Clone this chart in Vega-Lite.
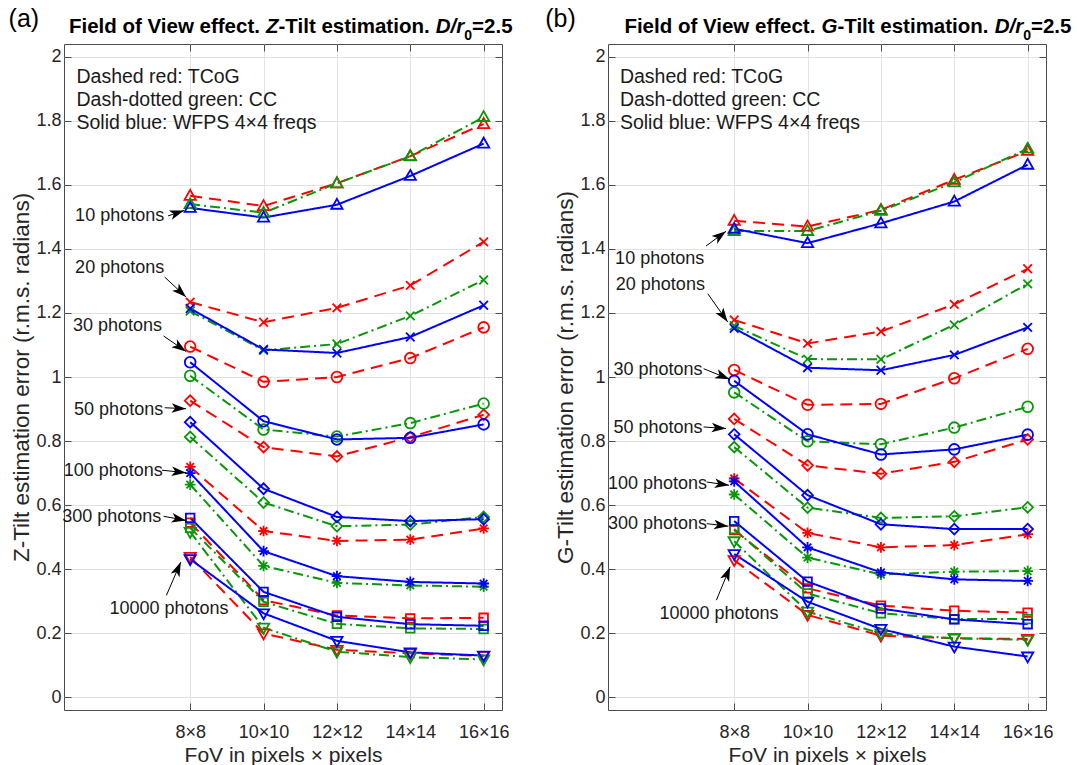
{
  "$schema": "https://vega.github.io/schema/vega-lite/v6.json",
  "background": "white",
  "padding": {"left": 8, "top": 6, "right": 5, "bottom": 0},
  "spacing": 106,
  "bounds": "flush",
  "config": {
    "font": "Liberation Sans",
    "view": {"stroke": "#4d4d4d", "strokeWidth": 1},
    "axis": {
      "labelFont": "Liberation Sans", "labelFontSize": 18, "labelColor": "#262626",
      "titleFont": "Liberation Sans", "titleFontSize": 21, "titleFontWeight": "normal", "titleColor": "#262626",
      "tickColor": "#4d4d4d", "tickSize": -7, "tickWidth": 1, "gridColor": "#e3e3e3", "gridWidth": 1, "domain": false
    }
  },
  "datasets": {
    "series": [
      {"panel":"a","method":"TCoG","photons":10,"fov":8,"err":1.566},{"panel":"a","method":"TCoG","photons":10,"fov":10,"err":1.534},{"panel":"a","method":"TCoG","photons":10,"fov":12,"err":1.605},{"panel":"a","method":"TCoG","photons":10,"fov":14,"err":1.690},{"panel":"a","method":"TCoG","photons":10,"fov":16,"err":1.790},
      {"panel":"a","method":"TCoG","photons":20,"fov":8,"err":1.234},{"panel":"a","method":"TCoG","photons":20,"fov":10,"err":1.171},{"panel":"a","method":"TCoG","photons":20,"fov":12,"err":1.216},{"panel":"a","method":"TCoG","photons":20,"fov":14,"err":1.286},{"panel":"a","method":"TCoG","photons":20,"fov":16,"err":1.422},
      {"panel":"a","method":"TCoG","photons":30,"fov":8,"err":1.095},{"panel":"a","method":"TCoG","photons":30,"fov":10,"err":0.985},{"panel":"a","method":"TCoG","photons":30,"fov":12,"err":1.000},{"panel":"a","method":"TCoG","photons":30,"fov":14,"err":1.059},{"panel":"a","method":"TCoG","photons":30,"fov":16,"err":1.155},
      {"panel":"a","method":"TCoG","photons":50,"fov":8,"err":0.926},{"panel":"a","method":"TCoG","photons":50,"fov":10,"err":0.781},{"panel":"a","method":"TCoG","photons":50,"fov":12,"err":0.752},{"panel":"a","method":"TCoG","photons":50,"fov":14,"err":0.812},{"panel":"a","method":"TCoG","photons":50,"fov":16,"err":0.882},
      {"panel":"a","method":"TCoG","photons":100,"fov":8,"err":0.719},{"panel":"a","method":"TCoG","photons":100,"fov":10,"err":0.519},{"panel":"a","method":"TCoG","photons":100,"fov":12,"err":0.488},{"panel":"a","method":"TCoG","photons":100,"fov":14,"err":0.492},{"panel":"a","method":"TCoG","photons":100,"fov":16,"err":0.527},
      {"panel":"a","method":"TCoG","photons":300,"fov":8,"err":0.545},{"panel":"a","method":"TCoG","photons":300,"fov":10,"err":0.303},{"panel":"a","method":"TCoG","photons":300,"fov":12,"err":0.255},{"panel":"a","method":"TCoG","photons":300,"fov":14,"err":0.246},{"panel":"a","method":"TCoG","photons":300,"fov":16,"err":0.248},
      {"panel":"a","method":"TCoG","photons":10000,"fov":8,"err":0.438},{"panel":"a","method":"TCoG","photons":10000,"fov":10,"err":0.199},{"panel":"a","method":"TCoG","photons":10000,"fov":12,"err":0.148},{"panel":"a","method":"TCoG","photons":10000,"fov":14,"err":0.137},{"panel":"a","method":"TCoG","photons":10000,"fov":16,"err":0.129},
      {"panel":"a","method":"CC","photons":10,"fov":8,"err":1.540},{"panel":"a","method":"CC","photons":10,"fov":10,"err":1.513},{"panel":"a","method":"CC","photons":10,"fov":12,"err":1.605},{"panel":"a","method":"CC","photons":10,"fov":14,"err":1.689},{"panel":"a","method":"CC","photons":10,"fov":16,"err":1.812},
      {"panel":"a","method":"CC","photons":20,"fov":8,"err":1.206},{"panel":"a","method":"CC","photons":20,"fov":10,"err":1.083},{"panel":"a","method":"CC","photons":20,"fov":12,"err":1.103},{"panel":"a","method":"CC","photons":20,"fov":14,"err":1.191},{"panel":"a","method":"CC","photons":20,"fov":16,"err":1.303},
      {"panel":"a","method":"CC","photons":30,"fov":8,"err":1.004},{"panel":"a","method":"CC","photons":30,"fov":10,"err":0.836},{"panel":"a","method":"CC","photons":30,"fov":12,"err":0.814},{"panel":"a","method":"CC","photons":30,"fov":14,"err":0.856},{"panel":"a","method":"CC","photons":30,"fov":16,"err":0.917},
      {"panel":"a","method":"CC","photons":50,"fov":8,"err":0.813},{"panel":"a","method":"CC","photons":50,"fov":10,"err":0.608},{"panel":"a","method":"CC","photons":50,"fov":12,"err":0.534},{"panel":"a","method":"CC","photons":50,"fov":14,"err":0.539},{"panel":"a","method":"CC","photons":50,"fov":16,"err":0.563},
      {"panel":"a","method":"CC","photons":100,"fov":8,"err":0.664},{"panel":"a","method":"CC","photons":100,"fov":10,"err":0.410},{"panel":"a","method":"CC","photons":100,"fov":12,"err":0.357},{"panel":"a","method":"CC","photons":100,"fov":14,"err":0.349},{"panel":"a","method":"CC","photons":100,"fov":16,"err":0.345},
      {"panel":"a","method":"CC","photons":300,"fov":8,"err":0.529},{"panel":"a","method":"CC","photons":300,"fov":10,"err":0.298},{"panel":"a","method":"CC","photons":300,"fov":12,"err":0.229},{"panel":"a","method":"CC","photons":300,"fov":14,"err":0.215},{"panel":"a","method":"CC","photons":300,"fov":16,"err":0.213},
      {"panel":"a","method":"CC","photons":10000,"fov":8,"err":0.516},{"panel":"a","method":"CC","photons":10000,"fov":10,"err":0.217},{"panel":"a","method":"CC","photons":10000,"fov":12,"err":0.142},{"panel":"a","method":"CC","photons":10000,"fov":14,"err":0.125},{"panel":"a","method":"CC","photons":10000,"fov":16,"err":0.118},
      {"panel":"a","method":"WFPS","photons":10,"fov":8,"err":1.528},{"panel":"a","method":"WFPS","photons":10,"fov":10,"err":1.498},{"panel":"a","method":"WFPS","photons":10,"fov":12,"err":1.538},{"panel":"a","method":"WFPS","photons":10,"fov":14,"err":1.628},{"panel":"a","method":"WFPS","photons":10,"fov":16,"err":1.729},
      {"panel":"a","method":"WFPS","photons":20,"fov":8,"err":1.214},{"panel":"a","method":"WFPS","photons":20,"fov":10,"err":1.086},{"panel":"a","method":"WFPS","photons":20,"fov":12,"err":1.075},{"panel":"a","method":"WFPS","photons":20,"fov":14,"err":1.125},{"panel":"a","method":"WFPS","photons":20,"fov":16,"err":1.224},
      {"panel":"a","method":"WFPS","photons":30,"fov":8,"err":1.046},{"panel":"a","method":"WFPS","photons":30,"fov":10,"err":0.862},{"panel":"a","method":"WFPS","photons":30,"fov":12,"err":0.805},{"panel":"a","method":"WFPS","photons":30,"fov":14,"err":0.810},{"panel":"a","method":"WFPS","photons":30,"fov":16,"err":0.852},
      {"panel":"a","method":"WFPS","photons":50,"fov":8,"err":0.859},{"panel":"a","method":"WFPS","photons":50,"fov":10,"err":0.651},{"panel":"a","method":"WFPS","photons":50,"fov":12,"err":0.563},{"panel":"a","method":"WFPS","photons":50,"fov":14,"err":0.550},{"panel":"a","method":"WFPS","photons":50,"fov":16,"err":0.556},
      {"panel":"a","method":"WFPS","photons":100,"fov":8,"err":0.700},{"panel":"a","method":"WFPS","photons":100,"fov":10,"err":0.456},{"panel":"a","method":"WFPS","photons":100,"fov":12,"err":0.378},{"panel":"a","method":"WFPS","photons":100,"fov":14,"err":0.360},{"panel":"a","method":"WFPS","photons":100,"fov":16,"err":0.355},
      {"panel":"a","method":"WFPS","photons":300,"fov":8,"err":0.560},{"panel":"a","method":"WFPS","photons":300,"fov":10,"err":0.329},{"panel":"a","method":"WFPS","photons":300,"fov":12,"err":0.251},{"panel":"a","method":"WFPS","photons":300,"fov":14,"err":0.228},{"panel":"a","method":"WFPS","photons":300,"fov":16,"err":0.223},
      {"panel":"a","method":"WFPS","photons":10000,"fov":8,"err":0.431},{"panel":"a","method":"WFPS","photons":10000,"fov":10,"err":0.262},{"panel":"a","method":"WFPS","photons":10000,"fov":12,"err":0.176},{"panel":"a","method":"WFPS","photons":10000,"fov":14,"err":0.140},{"panel":"a","method":"WFPS","photons":10000,"fov":16,"err":0.130},
      {"panel":"b","method":"TCoG","photons":10,"fov":8,"err":1.488},{"panel":"b","method":"TCoG","photons":10,"fov":10,"err":1.470},{"panel":"b","method":"TCoG","photons":10,"fov":12,"err":1.522},{"panel":"b","method":"TCoG","photons":10,"fov":14,"err":1.616},{"panel":"b","method":"TCoG","photons":10,"fov":16,"err":1.706},
      {"panel":"b","method":"TCoG","photons":20,"fov":8,"err":1.178},{"panel":"b","method":"TCoG","photons":20,"fov":10,"err":1.105},{"panel":"b","method":"TCoG","photons":20,"fov":12,"err":1.142},{"panel":"b","method":"TCoG","photons":20,"fov":14,"err":1.227},{"panel":"b","method":"TCoG","photons":20,"fov":16,"err":1.338},
      {"panel":"b","method":"TCoG","photons":30,"fov":8,"err":1.022},{"panel":"b","method":"TCoG","photons":30,"fov":10,"err":0.913},{"panel":"b","method":"TCoG","photons":30,"fov":12,"err":0.916},{"panel":"b","method":"TCoG","photons":30,"fov":14,"err":0.996},{"panel":"b","method":"TCoG","photons":30,"fov":16,"err":1.088},
      {"panel":"b","method":"TCoG","photons":50,"fov":8,"err":0.869},{"panel":"b","method":"TCoG","photons":50,"fov":10,"err":0.724},{"panel":"b","method":"TCoG","photons":50,"fov":12,"err":0.698},{"panel":"b","method":"TCoG","photons":50,"fov":14,"err":0.735},{"panel":"b","method":"TCoG","photons":50,"fov":16,"err":0.805},
      {"panel":"b","method":"TCoG","photons":100,"fov":8,"err":0.683},{"panel":"b","method":"TCoG","photons":100,"fov":10,"err":0.513},{"panel":"b","method":"TCoG","photons":100,"fov":12,"err":0.468},{"panel":"b","method":"TCoG","photons":100,"fov":14,"err":0.475},{"panel":"b","method":"TCoG","photons":100,"fov":16,"err":0.509},
      {"panel":"b","method":"TCoG","photons":300,"fov":8,"err":0.522},{"panel":"b","method":"TCoG","photons":300,"fov":10,"err":0.340},{"panel":"b","method":"TCoG","photons":300,"fov":12,"err":0.286},{"panel":"b","method":"TCoG","photons":300,"fov":14,"err":0.270},{"panel":"b","method":"TCoG","photons":300,"fov":16,"err":0.264},
      {"panel":"b","method":"TCoG","photons":10000,"fov":8,"err":0.428},{"panel":"b","method":"TCoG","photons":10000,"fov":10,"err":0.257},{"panel":"b","method":"TCoG","photons":10000,"fov":12,"err":0.192},{"panel":"b","method":"TCoG","photons":10000,"fov":14,"err":0.184},{"panel":"b","method":"TCoG","photons":10000,"fov":16,"err":0.182},
      {"panel":"b","method":"CC","photons":10,"fov":8,"err":1.456},{"panel":"b","method":"CC","photons":10,"fov":10,"err":1.456},{"panel":"b","method":"CC","photons":10,"fov":12,"err":1.519},{"panel":"b","method":"CC","photons":10,"fov":14,"err":1.608},{"panel":"b","method":"CC","photons":10,"fov":16,"err":1.713},
      {"panel":"b","method":"CC","photons":20,"fov":8,"err":1.160},{"panel":"b","method":"CC","photons":20,"fov":10,"err":1.056},{"panel":"b","method":"CC","photons":20,"fov":12,"err":1.055},{"panel":"b","method":"CC","photons":20,"fov":14,"err":1.163},{"panel":"b","method":"CC","photons":20,"fov":16,"err":1.291},
      {"panel":"b","method":"CC","photons":30,"fov":8,"err":0.952},{"panel":"b","method":"CC","photons":30,"fov":10,"err":0.799},{"panel":"b","method":"CC","photons":30,"fov":12,"err":0.790},{"panel":"b","method":"CC","photons":30,"fov":14,"err":0.842},{"panel":"b","method":"CC","photons":30,"fov":16,"err":0.907},
      {"panel":"b","method":"CC","photons":50,"fov":8,"err":0.781},{"panel":"b","method":"CC","photons":50,"fov":10,"err":0.592},{"panel":"b","method":"CC","photons":50,"fov":12,"err":0.560},{"panel":"b","method":"CC","photons":50,"fov":14,"err":0.565},{"panel":"b","method":"CC","photons":50,"fov":16,"err":0.593},
      {"panel":"b","method":"CC","photons":100,"fov":8,"err":0.633},{"panel":"b","method":"CC","photons":100,"fov":10,"err":0.436},{"panel":"b","method":"CC","photons":100,"fov":12,"err":0.383},{"panel":"b","method":"CC","photons":100,"fov":14,"err":0.392},{"panel":"b","method":"CC","photons":100,"fov":16,"err":0.394},
      {"panel":"b","method":"CC","photons":300,"fov":8,"err":0.525},{"panel":"b","method":"CC","photons":300,"fov":10,"err":0.324},{"panel":"b","method":"CC","photons":300,"fov":12,"err":0.262},{"panel":"b","method":"CC","photons":300,"fov":14,"err":0.244},{"panel":"b","method":"CC","photons":300,"fov":16,"err":0.244},
      {"panel":"b","method":"CC","photons":10000,"fov":8,"err":0.487},{"panel":"b","method":"CC","photons":10000,"fov":10,"err":0.267},{"panel":"b","method":"CC","photons":10000,"fov":12,"err":0.199},{"panel":"b","method":"CC","photons":10000,"fov":14,"err":0.184},{"panel":"b","method":"CC","photons":10000,"fov":16,"err":0.179},
      {"panel":"b","method":"WFPS","photons":10,"fov":8,"err":1.463},{"panel":"b","method":"WFPS","photons":10,"fov":10,"err":1.418},{"panel":"b","method":"WFPS","photons":10,"fov":12,"err":1.480},{"panel":"b","method":"WFPS","photons":10,"fov":14,"err":1.548},{"panel":"b","method":"WFPS","photons":10,"fov":16,"err":1.663},
      {"panel":"b","method":"WFPS","photons":20,"fov":8,"err":1.152},{"panel":"b","method":"WFPS","photons":20,"fov":10,"err":1.029},{"panel":"b","method":"WFPS","photons":20,"fov":12,"err":1.021},{"panel":"b","method":"WFPS","photons":20,"fov":14,"err":1.069},{"panel":"b","method":"WFPS","photons":20,"fov":16,"err":1.155},
      {"panel":"b","method":"WFPS","photons":30,"fov":8,"err":0.988},{"panel":"b","method":"WFPS","photons":30,"fov":10,"err":0.821},{"panel":"b","method":"WFPS","photons":30,"fov":12,"err":0.758},{"panel":"b","method":"WFPS","photons":30,"fov":14,"err":0.774},{"panel":"b","method":"WFPS","photons":30,"fov":16,"err":0.820},
      {"panel":"b","method":"WFPS","photons":50,"fov":8,"err":0.821},{"panel":"b","method":"WFPS","photons":50,"fov":10,"err":0.631},{"panel":"b","method":"WFPS","photons":50,"fov":12,"err":0.540},{"panel":"b","method":"WFPS","photons":50,"fov":14,"err":0.525},{"panel":"b","method":"WFPS","photons":50,"fov":16,"err":0.525},
      {"panel":"b","method":"WFPS","photons":100,"fov":8,"err":0.674},{"panel":"b","method":"WFPS","photons":100,"fov":10,"err":0.468},{"panel":"b","method":"WFPS","photons":100,"fov":12,"err":0.390},{"panel":"b","method":"WFPS","photons":100,"fov":14,"err":0.368},{"panel":"b","method":"WFPS","photons":100,"fov":16,"err":0.363},
      {"panel":"b","method":"WFPS","photons":300,"fov":8,"err":0.550},{"panel":"b","method":"WFPS","photons":300,"fov":10,"err":0.361},{"panel":"b","method":"WFPS","photons":300,"fov":12,"err":0.277},{"panel":"b","method":"WFPS","photons":300,"fov":14,"err":0.243},{"panel":"b","method":"WFPS","photons":300,"fov":16,"err":0.228},
      {"panel":"b","method":"WFPS","photons":10000,"fov":8,"err":0.447},{"panel":"b","method":"WFPS","photons":10000,"fov":10,"err":0.298},{"panel":"b","method":"WFPS","photons":10000,"fov":12,"err":0.213},{"panel":"b","method":"WFPS","photons":10000,"fov":14,"err":0.158},{"panel":"b","method":"WFPS","photons":10000,"fov":16,"err":0.127}
    ],
    "notes": [
      {"panel":"a","kind":"note","label":"10 photons","x":4.863,"y":1.487},
      {"panel":"a","kind":"note","label":"20 photons","x":4.863,"y":1.326},
      {"panel":"a","kind":"note","label":"30 photons","x":4.805,"y":1.143},
      {"panel":"a","kind":"note","label":"50 photons","x":4.835,"y":0.882},
      {"panel":"a","kind":"note","label":"100 photons","x":4.552,"y":0.690},
      {"panel":"a","kind":"note","label":"300 photons","x":4.51,"y":0.547},
      {"panel":"a","kind":"note","label":"10000 photons","x":5.80,"y":0.261},
      {"panel":"b","kind":"note","label":"10 photons","x":4.754,"y":1.352},
      {"panel":"b","kind":"note","label":"20 photons","x":4.773,"y":1.271},
      {"panel":"b","kind":"note","label":"30 photons","x":4.707,"y":1.005},
      {"panel":"b","kind":"note","label":"50 photons","x":4.707,"y":0.825},
      {"panel":"b","kind":"note","label":"100 photons","x":4.557,"y":0.651},
      {"panel":"b","kind":"note","label":"300 photons","x":4.557,"y":0.524},
      {"panel":"b","kind":"note","label":"10000 photons","x":5.964,"y":0.245},
      {"panel":"a","kind":"legend","label":"Dashed red: TCoG","x":4.90,"y":1.918},
      {"panel":"a","kind":"legend","label":"Dash-dotted green: CC","x":4.90,"y":1.847},
      {"panel":"a","kind":"legend","label":"Solid blue: WFPS 4×4 freqs","x":4.90,"y":1.775},
      {"panel":"b","kind":"legend","label":"Dashed red: TCoG","x":4.884,"y":1.918},
      {"panel":"b","kind":"legend","label":"Dash-dotted green: CC","x":4.884,"y":1.847},
      {"panel":"b","kind":"legend","label":"Solid blue: WFPS 4×4 freqs","x":4.884,"y":1.775},
      {"panel":"a","kind":"tag","label":"(a)","x":3.05,"y":2.093},
      {"panel":"b","kind":"tag","label":"(b)","x":2.848,"y":2.093},
      {"panel":"a","kind":"title","label":"Field of View effect. ","x":4.694,"y":2.075},
      {"panel":"a","kind":"title-it","label":"Z","x":10.068,"y":2.075},
      {"panel":"a","kind":"title","label":"-Tilt estimation. ","x":10.408,"y":2.075},
      {"panel":"a","kind":"title-it","label":"D/r","x":14.694,"y":2.075},
      {"panel":"a","kind":"title-sub","label":"0","x":15.471,"y":2.054},
      {"panel":"a","kind":"title","label":"=2.5","x":15.684,"y":2.075},
      {"panel":"b","kind":"title","label":"Field of View effect. ","x":5.007,"y":2.075},
      {"panel":"b","kind":"title-it","label":"G","x":10.381,"y":2.075},
      {"panel":"b","kind":"title","label":"-Tilt estimation. ","x":10.814,"y":2.075},
      {"panel":"b","kind":"title-it","label":"D/r","x":15.100,"y":2.075},
      {"panel":"b","kind":"title-sub","label":"0","x":15.877,"y":2.054},
      {"panel":"b","kind":"title","label":"=2.5","x":16.089,"y":2.075}
    ],
    "arrows": [
      {"panel":"a","x0":7.395,"y0":1.503,"x1":7.832,"y1":1.520},
      {"panel":"a","x0":7.305,"y0":1.312,"x1":7.886,"y1":1.250},
      {"panel":"a","x0":7.275,"y0":1.128,"x1":7.886,"y1":1.080},
      {"panel":"a","x0":7.305,"y0":0.904,"x1":7.886,"y1":0.901},
      {"panel":"a","x0":7.229,"y0":0.709,"x1":7.886,"y1":0.701},
      {"panel":"a","x0":7.275,"y0":0.565,"x1":7.886,"y1":0.552},
      {"panel":"a","x0":7.352,"y0":0.318,"x1":7.744,"y1":0.422},
      {"panel":"b","x0":7.232,"y0":1.409,"x1":7.777,"y1":1.455},
      {"panel":"b","x0":7.281,"y0":1.260,"x1":7.823,"y1":1.172},
      {"panel":"b","x0":7.166,"y0":1.026,"x1":7.873,"y1":0.993},
      {"panel":"b","x0":7.166,"y0":0.844,"x1":7.777,"y1":0.839},
      {"panel":"b","x0":7.251,"y0":0.672,"x1":7.860,"y1":0.662},
      {"panel":"b","x0":7.251,"y0":0.542,"x1":7.842,"y1":0.534},
      {"panel":"b","x0":7.515,"y0":0.303,"x1":7.889,"y1":0.407}
    ]
  },
  "hconcat": [
    {
      "width": 438, "height": 666,
      "resolve": {"axis": {"x": "independent", "y": "independent"}},
      "layer": [
        {
          "data": {"name": "series"},
          "transform": [{"filter": "datum.panel === 'a'"}],
          "mark": {"type": "line", "strokeWidth": 2},
          "encoding": {
            "x": {"field": "fov", "type": "quantitative", "scale": {"domain": [4.56, 16.5], "nice": false, "zero": false},
                  "axis": {"orient": "bottom", "values": [8, 10, 12, 14, 16], "labelExpr": "datum.value + '×' + datum.value", "title": "FoV in pixels × pixels", "grid": true, "labelPadding": 20, "titlePadding": 3}},
            "y": {"field": "err", "type": "quantitative", "scale": {"domain": [-0.04, 2.04], "nice": false, "zero": false},
                  "axis": {"orient": "left", "values": [0, 0.2, 0.4, 0.6, 0.8, 1, 1.2, 1.4, 1.6, 1.8, 2], "format": "~g", "title": "Z-Tilt estimation error (r.m.s. radians)", "titleFontSize": 22.5, "grid": true, "labelPadding": 10, "titlePadding": 2}},
            "color": {"field": "method", "type": "nominal", "scale": {"domain": ["TCoG", "CC", "WFPS"], "range": ["#ff0000", "#0a960a", "#0000ff"]}, "legend": null},
            "strokeDash": {"field": "method", "type": "nominal", "scale": {"domain": ["TCoG", "CC", "WFPS"], "range": [[12, 7], [10, 4, 2, 4], [1, 0]]}, "legend": null},
            "detail": {"field": "photons", "type": "nominal"}
          }
        },
        {
          "data": {"name": "series"},
          "transform": [{"filter": "datum.panel === 'a'"}],
          "mark": {"type": "point", "filled": false, "strokeWidth": 1.8, "size": 115, "opacity": 1},
          "encoding": {
            "x": {"field": "fov", "type": "quantitative", "axis": {"orient": "top", "values": [8, 10, 12, 14, 16], "labels": false, "title": null, "grid": false}},
            "y": {"field": "err", "type": "quantitative", "axis": {"orient": "right", "values": [0, 0.2, 0.4, 0.6, 0.8, 1, 1.2, 1.4, 1.6, 1.8, 2], "labels": false, "title": null, "grid": false}},
            "color": {"field": "method", "type": "nominal", "legend": null},
            "shape": {"field": "photons", "type": "nominal", "legend": null, "scale": {"domain": [10, 20, 30, 50, 100, 300, 10000], "range": ["M0,-1.1L1.05,0.75L-1.05,0.75Z", "M-0.8,-0.8L0.8,0.8M-0.8,0.8L0.8,-0.8", "circle", "diamond", "M-1,0L1,0M0,-1L0,1M-0.7,-0.7L0.7,0.7M-0.7,0.7L0.7,-0.7", "M-0.8,-0.8L0.8,-0.8L0.8,0.8L-0.8,0.8Z", "M0,1.1L1.05,-0.75L-1.05,-0.75Z"]}}
          }
        },
        {
          "data": {"name": "arrows"},
          "transform": [{"filter": "datum.panel === 'a'"}],
          "mark": {"type": "rule", "color": "#000000", "strokeWidth": 1},
          "encoding": {
            "x": {"field": "x0", "type": "quantitative", "axis": null},
            "y": {"field": "y0", "type": "quantitative", "axis": null},
            "x2": {"field": "x1"},
            "y2": {"field": "y1"}
          }
        },
        {
          "data": {"name": "arrows"},
          "transform": [{"filter": "datum.panel === 'a'"}, {"calculate": "atan2((datum.x1 - datum.x0) * 36.68, (datum.y1 - datum.y0) * 320.2) * 180 / PI", "as": "ang"}],
          "mark": {"type": "point", "filled": true, "color": "#000000", "size": 256, "opacity": 1, "shape": "M0,0L0.6,1.8L0,1.35L-0.6,1.8Z"},
          "encoding": {
            "x": {"field": "x1", "type": "quantitative", "axis": null},
            "y": {"field": "y1", "type": "quantitative", "axis": null},
            "angle": {"field": "ang", "type": "quantitative", "scale": null}
          }
        },
        {
          "data": {"name": "notes"},
          "transform": [{"filter": "datum.panel === 'a' && datum.kind === 'note'"}],
          "mark": {"type": "text", "align": "left", "baseline": "alphabetic", "fontSize": 18, "color": "#1a1a1a"},
          "encoding": {
            "x": {"field": "x", "type": "quantitative", "axis": null},
            "y": {"field": "y", "type": "quantitative", "axis": null},
            "text": {"field": "label"}
          }
        },
        {
          "data": {"name": "notes"},
          "transform": [{"filter": "datum.panel === 'a' && datum.kind === 'legend'"}],
          "mark": {"type": "text", "align": "left", "baseline": "alphabetic", "fontSize": 19.5, "color": "#1a1a1a"},
          "encoding": {
            "x": {"field": "x", "type": "quantitative", "axis": null},
            "y": {"field": "y", "type": "quantitative", "axis": null},
            "text": {"field": "label"}
          }
        },
        {
          "data": {"name": "notes"},
          "transform": [{"filter": "datum.panel === 'a' && datum.kind === 'tag'"}],
          "mark": {"type": "text", "align": "left", "baseline": "alphabetic", "fontSize": 25, "color": "#000000"},
          "encoding": {
            "x": {"field": "x", "type": "quantitative", "axis": null},
            "y": {"field": "y", "type": "quantitative", "axis": null},
            "text": {"field": "label"}
          }
        },
        {
          "data": {"name": "notes"},
          "transform": [{"filter": "datum.panel === 'a' && datum.kind === 'title'"}],
          "mark": {"type": "text", "align": "left", "baseline": "alphabetic", "fontSize": 20.5, "fontWeight": "bold", "color": "#000000"},
          "encoding": {
            "x": {"field": "x", "type": "quantitative", "axis": null},
            "y": {"field": "y", "type": "quantitative", "axis": null},
            "text": {"field": "label"}
          }
        },
        {
          "data": {"name": "notes"},
          "transform": [{"filter": "datum.panel === 'a' && datum.kind === 'title-it'"}],
          "mark": {"type": "text", "align": "left", "baseline": "alphabetic", "fontSize": 20.5, "fontWeight": "bold", "fontStyle": "italic", "color": "#000000"},
          "encoding": {
            "x": {"field": "x", "type": "quantitative", "axis": null},
            "y": {"field": "y", "type": "quantitative", "axis": null},
            "text": {"field": "label"}
          }
        },
        {
          "data": {"name": "notes"},
          "transform": [{"filter": "datum.panel === 'a' && datum.kind === 'title-sub'"}],
          "mark": {"type": "text", "align": "left", "baseline": "alphabetic", "fontSize": 14, "fontWeight": "bold", "color": "#000000"},
          "encoding": {
            "x": {"field": "x", "type": "quantitative", "axis": null},
            "y": {"field": "y", "type": "quantitative", "axis": null},
            "text": {"field": "label"}
          }
        }
      ]
    },
    {
      "width": 438, "height": 666,
      "resolve": {"axis": {"x": "independent", "y": "independent"}},
      "layer": [
        {
          "data": {"name": "series"},
          "transform": [{"filter": "datum.panel === 'b'"}],
          "mark": {"type": "line", "strokeWidth": 2},
          "encoding": {
            "x": {"field": "fov", "type": "quantitative", "scale": {"domain": [4.56, 16.5], "nice": false, "zero": false},
                  "axis": {"orient": "bottom", "values": [8, 10, 12, 14, 16], "labelExpr": "datum.value + '×' + datum.value", "title": "FoV in pixels × pixels", "grid": true, "labelPadding": 20, "titlePadding": 3}},
            "y": {"field": "err", "type": "quantitative", "scale": {"domain": [-0.04, 2.04], "nice": false, "zero": false},
                  "axis": {"orient": "left", "values": [0, 0.2, 0.4, 0.6, 0.8, 1, 1.2, 1.4, 1.6, 1.8, 2], "format": "~g", "title": "G-Tilt estimation error (r.m.s. radians)", "titleFontSize": 22.5, "grid": true, "labelPadding": 10, "titlePadding": 2}},
            "color": {"field": "method", "type": "nominal", "scale": {"domain": ["TCoG", "CC", "WFPS"], "range": ["#ff0000", "#0a960a", "#0000ff"]}, "legend": null},
            "strokeDash": {"field": "method", "type": "nominal", "scale": {"domain": ["TCoG", "CC", "WFPS"], "range": [[12, 7], [10, 4, 2, 4], [1, 0]]}, "legend": null},
            "detail": {"field": "photons", "type": "nominal"}
          }
        },
        {
          "data": {"name": "series"},
          "transform": [{"filter": "datum.panel === 'b'"}],
          "mark": {"type": "point", "filled": false, "strokeWidth": 1.8, "size": 115, "opacity": 1},
          "encoding": {
            "x": {"field": "fov", "type": "quantitative", "axis": {"orient": "top", "values": [8, 10, 12, 14, 16], "labels": false, "title": null, "grid": false}},
            "y": {"field": "err", "type": "quantitative", "axis": {"orient": "right", "values": [0, 0.2, 0.4, 0.6, 0.8, 1, 1.2, 1.4, 1.6, 1.8, 2], "labels": false, "title": null, "grid": false}},
            "color": {"field": "method", "type": "nominal", "legend": null},
            "shape": {"field": "photons", "type": "nominal", "legend": null, "scale": {"domain": [10, 20, 30, 50, 100, 300, 10000], "range": ["M0,-1.1L1.05,0.75L-1.05,0.75Z", "M-0.8,-0.8L0.8,0.8M-0.8,0.8L0.8,-0.8", "circle", "diamond", "M-1,0L1,0M0,-1L0,1M-0.7,-0.7L0.7,0.7M-0.7,0.7L0.7,-0.7", "M-0.8,-0.8L0.8,-0.8L0.8,0.8L-0.8,0.8Z", "M0,1.1L1.05,-0.75L-1.05,-0.75Z"]}}
          }
        },
        {
          "data": {"name": "arrows"},
          "transform": [{"filter": "datum.panel === 'b'"}],
          "mark": {"type": "rule", "color": "#000000", "strokeWidth": 1},
          "encoding": {
            "x": {"field": "x0", "type": "quantitative", "axis": null},
            "y": {"field": "y0", "type": "quantitative", "axis": null},
            "x2": {"field": "x1"},
            "y2": {"field": "y1"}
          }
        },
        {
          "data": {"name": "arrows"},
          "transform": [{"filter": "datum.panel === 'b'"}, {"calculate": "atan2((datum.x1 - datum.x0) * 36.68, (datum.y1 - datum.y0) * 320.2) * 180 / PI", "as": "ang"}],
          "mark": {"type": "point", "filled": true, "color": "#000000", "size": 256, "opacity": 1, "shape": "M0,0L0.6,1.8L0,1.35L-0.6,1.8Z"},
          "encoding": {
            "x": {"field": "x1", "type": "quantitative", "axis": null},
            "y": {"field": "y1", "type": "quantitative", "axis": null},
            "angle": {"field": "ang", "type": "quantitative", "scale": null}
          }
        },
        {
          "data": {"name": "notes"},
          "transform": [{"filter": "datum.panel === 'b' && datum.kind === 'note'"}],
          "mark": {"type": "text", "align": "left", "baseline": "alphabetic", "fontSize": 18, "color": "#1a1a1a"},
          "encoding": {
            "x": {"field": "x", "type": "quantitative", "axis": null},
            "y": {"field": "y", "type": "quantitative", "axis": null},
            "text": {"field": "label"}
          }
        },
        {
          "data": {"name": "notes"},
          "transform": [{"filter": "datum.panel === 'b' && datum.kind === 'legend'"}],
          "mark": {"type": "text", "align": "left", "baseline": "alphabetic", "fontSize": 19.5, "color": "#1a1a1a"},
          "encoding": {
            "x": {"field": "x", "type": "quantitative", "axis": null},
            "y": {"field": "y", "type": "quantitative", "axis": null},
            "text": {"field": "label"}
          }
        },
        {
          "data": {"name": "notes"},
          "transform": [{"filter": "datum.panel === 'b' && datum.kind === 'tag'"}],
          "mark": {"type": "text", "align": "left", "baseline": "alphabetic", "fontSize": 25, "color": "#000000"},
          "encoding": {
            "x": {"field": "x", "type": "quantitative", "axis": null},
            "y": {"field": "y", "type": "quantitative", "axis": null},
            "text": {"field": "label"}
          }
        },
        {
          "data": {"name": "notes"},
          "transform": [{"filter": "datum.panel === 'b' && datum.kind === 'title'"}],
          "mark": {"type": "text", "align": "left", "baseline": "alphabetic", "fontSize": 20.5, "fontWeight": "bold", "color": "#000000"},
          "encoding": {
            "x": {"field": "x", "type": "quantitative", "axis": null},
            "y": {"field": "y", "type": "quantitative", "axis": null},
            "text": {"field": "label"}
          }
        },
        {
          "data": {"name": "notes"},
          "transform": [{"filter": "datum.panel === 'b' && datum.kind === 'title-it'"}],
          "mark": {"type": "text", "align": "left", "baseline": "alphabetic", "fontSize": 20.5, "fontWeight": "bold", "fontStyle": "italic", "color": "#000000"},
          "encoding": {
            "x": {"field": "x", "type": "quantitative", "axis": null},
            "y": {"field": "y", "type": "quantitative", "axis": null},
            "text": {"field": "label"}
          }
        },
        {
          "data": {"name": "notes"},
          "transform": [{"filter": "datum.panel === 'b' && datum.kind === 'title-sub'"}],
          "mark": {"type": "text", "align": "left", "baseline": "alphabetic", "fontSize": 14, "fontWeight": "bold", "color": "#000000"},
          "encoding": {
            "x": {"field": "x", "type": "quantitative", "axis": null},
            "y": {"field": "y", "type": "quantitative", "axis": null},
            "text": {"field": "label"}
          }
        }
      ]
    }
  ]
}
